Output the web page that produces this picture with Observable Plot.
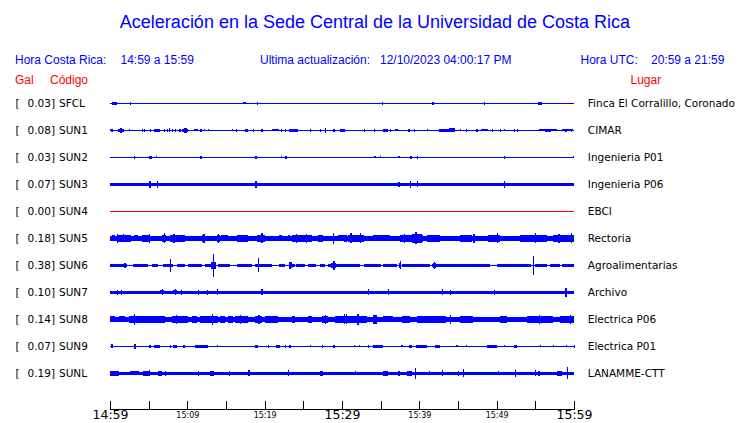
<!DOCTYPE html>
<html>
<head>
<meta charset="utf-8">
<script src="https://cdn.jsdelivr.net/npm/d3@7"></script>
<script src="https://cdn.jsdelivr.net/npm/@observablehq/plot@0.6"></script>
<style>
  body { margin: 0; background: white; }
  #wrap { width: 740px; height: 423px; position: relative; overflow: hidden; }
  #header { position: relative; height: 88px; font-family: "Liberation Sans", Arial, sans-serif; }
  #header div { position: absolute; line-height: 1; white-space: nowrap; }
  .blue { color: #0000ff; font-size: 12px; }
  .red { color: #ff0000; font-size: 12px; }
  #chart svg { display: block; }
</style>
</head>
<body>
<div id="wrap">
  <div id="header">
    <div style="left:0;width:750px;text-align:center;top:12.8px;font-size:18px;color:#0000ff;">Aceleración en la Sede Central de la Universidad de Costa Rica</div>
    <div class="blue" style="left:15px;top:53.8px;">Hora Costa Rica:</div>
    <div class="blue" style="left:120.5px;top:53.8px;">14:59 a 15:59</div>
    <div class="blue" style="left:260px;top:53.8px;">Ultima actualización:</div>
    <div class="blue" style="left:380px;top:53.8px;">12/10/2023 04:00:17 PM</div>
    <div class="blue" style="left:580.5px;top:53.8px;">Hora UTC:</div>
    <div class="blue" style="left:651px;top:53.8px;">20:59 a 21:59</div>
    <div class="red" style="left:15px;top:73.8px;">Gal</div>
    <div class="red" style="left:50px;top:73.8px;">Código</div>
    <div class="red" style="left:630.5px;top:73.8px;">Lugar</div>
  </div>
  <div id="chart"></div>
</div>
<script>
// ---- data ----
const stations = ["SFCL","SUN1","SUN2","SUN3","SUN4","SUN5","SUN6","SUN7","SUN8","SUN9","SUNL"];
const galValues = [0.03,0.08,0.03,0.07,0.00,0.18,0.38,0.10,0.14,0.07,0.19];
const places = ["Finca El Corralillo, Coronado","CIMAR","Ingenieria P01","Ingenieria P06","EBCI","Rectoria","Agroalimentarias","Archivo","Electrica P06","Electrica P01","LANAMME-CTT"];
// minutes after 14:59
const tickMinutes = [0,5,10,15,20,25,30,35,40,45,50,55,60];
const majorLabelMinutes = [0,30,60];
const majorLabels = ["14:59","15:29","15:59"];
const minorLabelMinutes = [10,20,40,50];
const minorLabels = ["15:09","15:19","15:39","15:49"];
// background (continuous) trace amplitude per station
const baseAmp = [0.5,0.6,0.5,1.8,0.5,2.5,0.6,1.6,2.3,0.6,1.6];
// events: [minute, amplitude] = spike ; [minuteStart, minuteEnd, amplitude] = burst
const evSFCL = [[0.3,0.9,1.2],[0.7,1.6],[2.6,1.6],[17.2,17.6,1.1],[19.0,1.6],[35.2,1.4],[41.7,1.4],[48.4,1.4],[55.4,55.8,1.5]];
const evSUN1 = [[0.0,0.3,1.0],[1.0,1.8,1.6],[1.3,1.5,2.3],[5.7,6.5,1.2],[8.9,9.2,1.2],[9.3,10.1,1.3],[9.6,9.9,2.2],[10.8,11.4,1.1],[17.4,17.9,1.2],[21.0,21.8,1.0],[23.1,24.3,1.3],[29.8,30.4,1.2],[35.3,35.9,1.2],[36.8,37.2,1.0],[42.6,43.9,1.2],[43.9,44.6,2.0],[48.0,48.9,1.0],[55.5,57.8,1.1],[56.3,57.0,1.7],[58.4,59.9,1.0],
  [0.2,1.3],[2.5,1.0],[4.1,1.3],[4.4,1.3],[5.2,1.5],[7.0,1.3],[7.4,1.5],[7.6,2.0],[8.0,1.3],[8.4,1.3],[11.7,1.3],[12.2,1.0],[12.7,1.0],[15.8,1.0],[16.3,1.5],[18.5,1.3],[19.6,1.3],[22.1,1.3],[22.6,1.5],[25.9,1.3],[27.2,1.3],[27.8,2.7],[28.9,1.3],[32.8,1.3],[34.1,1.3],[36.2,1.3],[38.6,1.3],[39.3,1.3],[41.0,1.0],[45.3,1.0],[46.0,1.3],[47.4,1.3],[49.4,1.3],[50.4,1.3],[50.9,1.0],[52.2,1.3],[52.6,1.5],[58.9,1.3],[59.6,1.3]];
const evSUN2 = [[3.15,1.4],[5.0,5.4,1.5],[5.95,1.0],[11.7,1.4],[18.7,19.0,1.5],[22.1,1.0],[22.7,1.4],[34.2,1.0],[34.9,1.0],[37.3,1.0],[38.8,39.0,1.5],[39.65,1.3],[50.9,1.5],[59.9,1.0]];
const evSUN3 = [[5.1,3.5],[6.1,3.5],[18.7,19.0,3.6],[37.3,2.5],[38.8,3.8],[39.65,3.0],[50.9,3.5]];
const evSUN4 = [];
const evSUN5 = [[0.2,0.65,3.0],[0.86,2.6,3.2],[3.15,3.66,3.0],[4.1,5.2,3.5],[6.7,7.3,3.7],[7.8,9.7,3.5],[11.85,12.3,3.5],[13.8,14.2,3.7],[14.4,15.3,3.0],[16.4,17.9,3.2],[19.0,20.0,3.7],[21.8,22.2,3.0],[23.0,23.3,3.0],[23.5,26.1,3.2],[26.9,27.6,3.4],[29.5,30.2,3.0],
  [30.2,30.6,3.4],[30.8,32.8,3.5],[34.05,36.2,3.1],[37.5,40.5,3.7],[39.1,40.3,4.5],[40.95,42.7,3.4],[45.3,46.8,3.5],[48.9,50.4,3.2],[53.0,56.5,3.4],[57.3,60.0,3.7],
  [0.9,4.5],[1.7,4.0],[2.6,3.5],[5.0,4.5],[7.0,5.0],[8.2,4.5],[12.1,4.5],[14.0,4.5],[19.6,5.0],[24.0,4.5],[25.3,4.5],[28.8,5.5],[31.1,5.0],[32.3,5.0],[38.0,4.5],[39.5,6.0],[47.0,4.5],[50.0,5.0],[55.0,5.0],[58.0,4.5],[59.6,5.0]];
const evSUN6 = [[0.0,2.15,1.6],[3.0,4.96,1.6],[5.4,6.25,1.6],[6.9,8.2,1.6],[8.6,9.7,1.6],[10.1,11.85,1.6],[12.3,13.6,1.6],[14.0,15.5,1.6],[16.4,18.3,1.6],[18.75,20.9,1.6],[21.8,22.6,1.6],[23.1,23.9,1.6],[24.1,25.2,1.6],[25.6,26.7,1.6],[27.15,27.8,1.6],[28.2,30.4,1.6],
  [30.4,32.3,1.6],[32.8,35.1,1.6],[35.3,37.1,1.6],[37.7,41.4,1.6],[41.6,49.1,1.6],[50.0,54.5,1.6],[54.95,56.5,1.6],[56.9,58.2,1.6],[58.4,60.0,1.6],
  [1.8,2.1,2.4],[13.0,13.7,3.2],[23.1,23.5,3.0],[28.6,29.2,2.8],[41.8,42.1,2.8],[37.4,37.6,2.8],
  [1.94,2.5],[7.76,6.5],[13.36,11.8],[19.18,7.0],[23.2,3.6],[28.9,4.2],[37.5,4.0],[41.94,3.2],[54.74,9.5]];
const evSUN7 = [[6.5,7.0,2.1],[8.2,8.7,2.1],[0.9,2.6],[1.4,2.6],[6.7,3.0],[8.4,3.0],[9.2,2.4],[11.4,2.2],[12.5,2.4],[13.8,3.0],[19.6,3.0],[33.4,3.0],[35.9,3.0],[42.9,3.0],[44.0,2.4],[49.65,2.3],[58.9,4.5]];
const evSUN8 = [[0.0,0.65,3.0],[1.1,1.94,2.9],[2.4,3.66,3.4],[3.66,5.39,3.4],[5.39,7.11,3.4],[7.97,10.13,3.7],[10.56,11.2,3.2],[11.6,12.28,3.2],[12.28,14.0,3.7],[14.2,14.87,3.2],[15.3,15.95,3.7],[16.16,17.9,3.4],[18.75,19.6,3.7],[20.04,20.9,3.5],[20.9,21.77,3.2],[23.5,23.9,3.2],[25.6,26.1,3.4],[27.4,28.2,3.7],[29.1,30.4,3.5],
  [29.74,33.2,3.7],[34.05,34.5,4.2],[35.34,36.6,3.0],[37.7,38.8,3.2],[39.65,43.5,3.4],[45.26,47.0,3.2],[50.43,51.3,3.2],[53.9,57.3,3.7],[58.2,60.0,3.2],
  [3.15,5.5],[13.15,5.2],[30.3,5.0],[30.5,5.0],[32.0,5.2],[8.5,4.5],[16.8,4.5],[19.2,4.5],[27.8,4.5],[44.0,4.3],[55.5,4.5],[59.5,4.5]];
const evSUN9 = [[0.2,2.0],[3.1,3.3,2.5],[5.1,1.5],[5.7,6.5,1.5],[7.8,1.3],[8.2,8.6,1.5],[9.5,1.3],[11.0,12.7,1.3],[11.4,1.5],[12.1,1.5],[13.8,1.0],[18.8,19.2,1.5],[20.4,1.2],[21.5,22.0,1.3],[22.6,1.5],[23.2,1.3],[25.9,1.0],[27.4,1.3],[28.9,29.1,1.3],
  [31.5,1.0],[32.2,1.0],[33.4,1.3],[34.0,35.3,1.3],[37.7,1.0],[38.6,39.1,1.5],[39.6,41.0,1.2],[42.0,42.7,1.5],[44.8,1.0],[46.0,1.0],[48.7,50.0,1.2],[50.9,1.0],[52.2,52.6,1.3],[55.6,1.0],[57.3,1.0],[59.0,1.0],[60.0,1.3]];
const evSUNL = [[0.0,1.1,2.3],[0.65,2.8],[2.6,3.7,2.1],[4.3,5.2,2.2],[5.0,3.0],[6.2,6.7,2.7],[7.1,2.5],[11.4,2.5],[12.9,13.4,2.3],[15.4,2.3],[17.9,3.0],[23.0,3.0],[27.1,27.6,2.3],
  [31.7,2.0],[35.3,36.0,2.2],[37.3,2.3],[38.4,39.0,2.7],[39.4,5.5],[41.2,2.0],[42.9,3.0],[45.0,2.3],[45.6,4.0],[50.2,2.0],[52.4,3.5],[55.0,3.0],[55.4,2.5],[57.8,58.4,2.7],[59.05,6.0]];
const stationEvents = [evSFCL,evSUN1,evSUN2,evSUN3,evSUN4,evSUN5,evSUN6,evSUN7,evSUN8,evSUN9,evSUNL];

// ---- chart ----
const blue = "#0000ff", red = "#ff0000";
const flatStation = "SUN4";
const rowPx = 27;           // pixels per row
const gain = 1 / rowPx;     // amplitude units -> row units
const xDomain = [0, 60];
const yDomain = [-0.5, 11.32];

const rows = stations.map((s, i) => ({i, s, gal: galValues[i], place: places[i], b: baseAmp[i]}));
const bursts = stationEvents.flatMap((ev, i) => ev.filter(e => e.length === 3).map(([t1, t2, a]) => ({i, t1, t2, a})));
const spikes = stationEvents.flatMap((ev, i) => ev.filter(e => e.length === 2).map(([t, a]) => ({i, t, a})));

const tickShape = {draw(context, l) { context.moveTo(0, 0); context.lineTo(0, -l); }};

const chart = Plot.plot({
  width: 740,
  height: 335,
  marginLeft: 110,
  marginRight: 166,
  marginTop: 1.8,
  marginBottom: 14,
  style: {fontFamily: "DejaVu Sans", background: "white", overflow: "visible"},
  x: {domain: xDomain, axis: null},
  y: {domain: yDomain, reverse: true, axis: null},
  marks: [
    Plot.rect(rows.filter(d => d.s !== flatStation), {x1: () => xDomain[0], x2: () => xDomain[1], y1: d => d.i - d.b * gain, y2: d => d.i + d.b * gain, fill: blue, shapeRendering: "crispEdges"}),
    Plot.rect(rows.filter(d => d.s === flatStation), {x1: () => xDomain[0], x2: () => xDomain[1], y1: d => d.i - d.b * gain, y2: d => d.i + d.b * gain, fill: red, shapeRendering: "crispEdges"}),
    Plot.rect(bursts, {x1: "t1", x2: "t2", y1: d => d.i - d.a * gain, y2: d => d.i + d.a * gain, fill: blue, shapeRendering: "crispEdges"}),
    Plot.ruleX(spikes, {x: "t", y1: d => d.i - d.a * gain, y2: d => d.i + d.a * gain, stroke: blue, strokeWidth: 1.2, shapeRendering: "crispEdges"}),
    // left labels
    Plot.text(rows, {y: "i", frameAnchor: "left", text: () => "[", dx: -95, textAnchor: "start", fontSize: 10.5, fill: "black"}),
    Plot.text(rows, {y: "i", frameAnchor: "left", text: d => d.gal.toFixed(2) + "]", dx: -55.5, textAnchor: "end", fontSize: 10.5, fill: "black"}),
    Plot.text(rows, {y: "i", frameAnchor: "left", text: "s", dx: -51.5, textAnchor: "start", fontSize: 10.5, fill: "black"}),
    // right labels
    Plot.text(rows, {y: "i", frameAnchor: "right", text: "place", dx: 13.3, textAnchor: "start", fontSize: 10.5, fill: "black"}),
    // time axis
    Plot.ruleY([yDomain[1]], {stroke: "black", strokeWidth: 1, shapeRendering: "crispEdges"}),
    Plot.vector(tickMinutes, {x: d => d, frameAnchor: "bottom", length: 8, anchor: "start", rotate: 0, shape: tickShape, stroke: "black", strokeWidth: 1, shapeRendering: "crispEdges"}),
    Plot.text(majorLabelMinutes, {x: d => d, text: (d, i) => majorLabels[i], frameAnchor: "bottom", lineAnchor: "top", dy: 1, fontSize: 12.5, fill: "black"}),
    Plot.text(minorLabelMinutes, {x: d => d, text: (d, i) => minorLabels[i], frameAnchor: "bottom", lineAnchor: "top", dy: 2.6, fontSize: 8, fill: "black"})
  ]
});
document.getElementById("chart").appendChild(chart);
</script>
</body>
</html>
